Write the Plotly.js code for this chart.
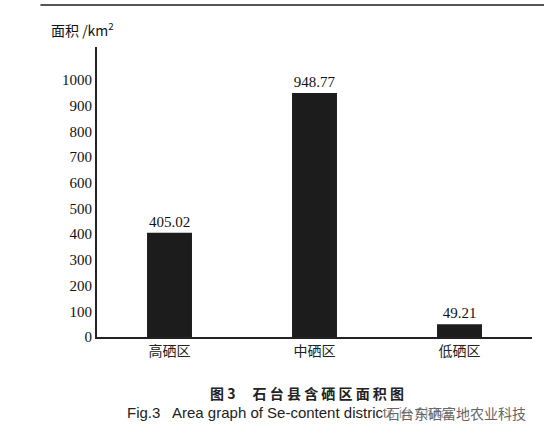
<!DOCTYPE html>
<html><head><meta charset="utf-8">
<script src="https://cdn.plot.ly/plotly-3.0.1.min.js"></script>
<style>html,body{margin:0;padding:0;background:#fff;}#c{width:544px;height:440px;}</style>
</head><body><div id="c"></div>
<script>
const categories = ['高硒区', '中硒区', '低硒区'];
const areas = [405.02, 948.77, 49.21];
const areaLabels = ['405.02', '948.77', '49.21'];
const yTicks = [0, 100, 200, 300, 400, 500, 600, 700, 800, 900, 1000];

const serif = '"Liberation Serif", "Times New Roman", serif';
const cjk = '"Noto Sans CJK SC", sans-serif';

const trace = {
  type: 'bar', x: categories, y: areas,
  text: areaLabels, textposition: 'outside', cliponaxis: false,
  textfont: {family: serif, size: 15, color: '#111'},
  marker: {color: '#1c1c1c', line: {width: 0}},
  width: 0.31, hoverinfo: 'none'
};

const layout = {
  width: 544, height: 440,
  margin: {l: 97, r: 12, t: 47, b: 103},
  paper_bgcolor: '#fff', plot_bgcolor: '#fff',
  showlegend: false,
  xaxis: {
    range: [-0.5, 2.5], showline: true, linecolor: '#222', linewidth: 2,
    ticks: '', showgrid: false, zeroline: false,
    tickfont: {family: cjk, size: 14, color: '#222'}
  },
  yaxis: {
    range: [0, 1128], showline: true, linecolor: '#222', linewidth: 2,
    tickvals: yTicks, ticktext: yTicks.map(String), ticks: '', ticklen: 0,
    showgrid: false, zeroline: false,
    tickfont: {family: serif, size: 15, color: '#111'}
  },
  shapes: [
    {type: 'line', xref: 'paper', yref: 'paper', x0: -0.13, x1: 1.03, y0: 1.145, y1: 1.145,
     line: {color: '#555', width: 2}}
  ],
  annotations: [
    {xref: 'paper', yref: 'paper', x: -0.11, y: 1.06, xanchor: 'left', yanchor: 'middle',
     showarrow: false, text: '面积 /km<sup>2</sup>',
     font: {family: cjk, size: 14, color: '#111'}},
    {xref: 'paper', yref: 'paper', x: 0.483, y: -0.193, xanchor: 'center', yanchor: 'middle',
     showarrow: false, text: '<b>图 3　 石 台 县 含 硒 区 面 积 图</b>',
     font: {family: cjk, size: 14, color: '#222'}},
    {xref: 'paper', yref: 'paper', x: 0.065, y: -0.262, xanchor: 'left', yanchor: 'middle',
     showarrow: false, text: 'Fig.3   Area graph of Se-content districts in Shitai',
     font: {family: '"Liberation Sans", Arial, sans-serif', size: 15, color: '#222'}},
    {xref: 'paper', yref: 'paper', x: 0.99, y: -0.262, xanchor: 'right', yanchor: 'middle',
     showarrow: false, text: '石台东硒富地农业科技',
     bgcolor: 'rgba(255,255,255,0.6)',
     font: {family: cjk, size: 14, color: '#666'}}
  ]
};

Plotly.newPlot('c', [trace], layout, {displayModeBar: false, staticPlot: true});
</script>
</body></html>
